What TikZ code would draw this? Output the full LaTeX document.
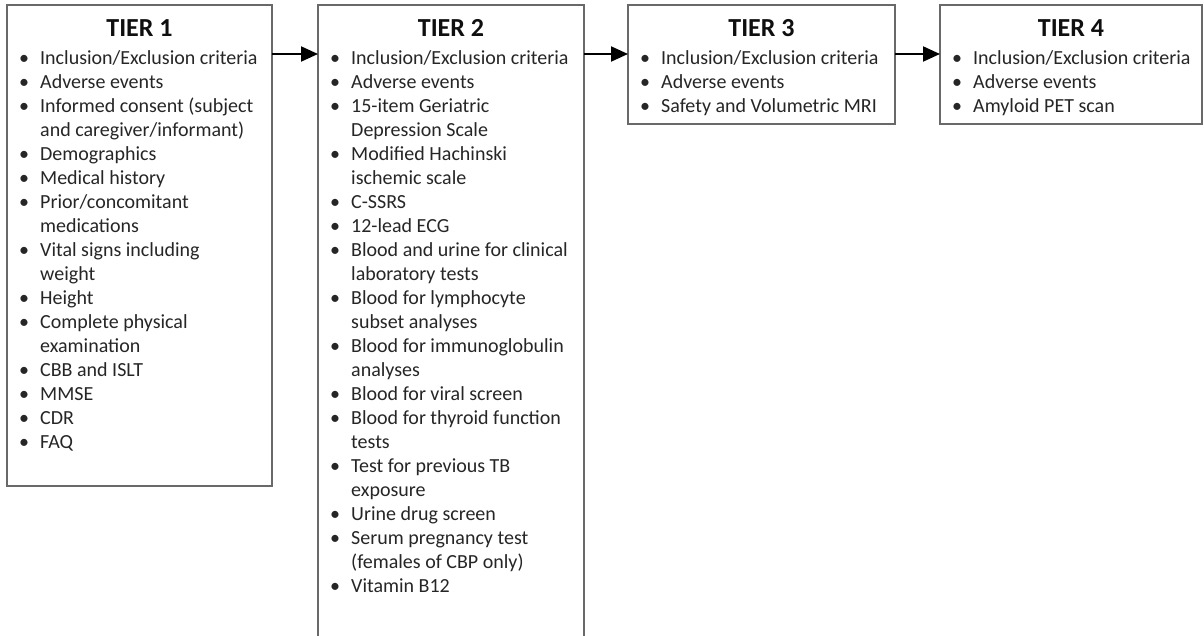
\documentclass[tikz,border=0pt]{standalone}
\usepackage{fontspec}
\setmainfont{Carlito}
\usetikzlibrary{arrows.meta}
\definecolor{boxgray}{RGB}{105,105,105}
\definecolor{txtgray}{RGB}{38,38,38}
\definecolor{ttlgray}{RGB}{15,15,15}
\newcommand\bl{\makebox[21pt][l]{•}}
\newcommand\ind{\hspace*{21pt}}
\newcommand\lst[1]{\parbox[t]{262pt}{\fontsize{20}{24}\selectfont\raggedright #1}}
\tikzset{
  tierbox/.style={draw=boxgray, line width=2.2pt, fill=white, inner sep=0pt, outer sep=0pt, anchor=north west},
  tiertitle/.style={anchor=base, inner sep=0pt, text=ttlgray, font=\fontsize{26}{30}\selectfont\bfseries},
  tierlist/.style={anchor=base west, inner sep=0pt, text=txtgray},
  arr/.style={draw=black, line width=2pt, -{Triangle[length=17pt,width=15pt]}}
}
\begin{document}
\begin{tikzpicture}[x=1pt,y=-1pt]
\useasboundingbox (0,0) rectangle (1204,636);
\clip (0,0) rectangle (1204,636);
\fill[white] (0,0) rectangle (1204,636);
% boxes
\node[tierbox, minimum width=265pt, minimum height=481pt] (t1) at (7,5) {};
\node[tierbox, minimum width=266pt, minimum height=660pt] (t2) at (318,5) {};
\node[tierbox, minimum width=267pt, minimum height=119pt] (t3) at (628,5) {};
\node[tierbox, minimum width=262pt, minimum height=119pt] (t4) at (940,5) {};
% titles
\node[tiertitle] (t1t) at ([yshift=-32pt]t1.north) {TIER 1};
\node[tiertitle] (t2t) at ([yshift=-32pt]t2.north) {TIER 2};
\node[tiertitle] (t3t) at ([yshift=-32pt]t3.north) {TIER 3};
\node[tiertitle] (t4t) at ([yshift=-32pt]t4.north) {TIER 4};
% lists
\node[tierlist] (t1l) at ([xshift=12pt,yshift=-60pt]t1.north west) {\lst{%
\bl Inclusion/Exclusion criteria\\
\bl Adverse events\\
\bl Informed consent (subject\\
\ind and caregiver/informant)\\
\bl Demographics\\
\bl Medical history\\
\bl Prior/concomitant\\
\ind medications\\
\bl Vital signs including\\
\ind weight\\
\bl Height\\
\bl Complete physical\\
\ind examination\\
\bl CBB and ISLT\\
\bl MMSE\\
\bl CDR\\
\bl FAQ}};
\node[tierlist] (t2l) at ([xshift=12pt,yshift=-60pt]t2.north west) {\lst{%
\bl Inclusion/Exclusion criteria\\
\bl Adverse events\\
\bl 15-item Geriatric\\
\ind Depression Scale\\
\bl Modified Hachinski\\
\ind ischemic scale\\
\bl C-SSRS\\
\bl 12-lead ECG\\
\bl Blood and urine for clinical\\
\ind laboratory tests\\
\bl Blood for lymphocyte\\
\ind subset analyses\\
\bl Blood for immunoglobulin\\
\ind analyses\\
\bl Blood for viral screen\\
\bl Blood for thyroid function\\
\ind tests\\
\bl Test for previous TB\\
\ind exposure\\
\bl Urine drug screen\\
\bl Serum pregnancy test\\
\ind (females of CBP only)\\
\bl Vitamin B12}};
\node[tierlist] (t3l) at ([xshift=12pt,yshift=-60pt]t3.north west) {\lst{%
\bl Inclusion/Exclusion criteria\\
\bl Adverse events\\
\bl Safety and Volumetric MRI}};
\node[tierlist] (t4l) at ([xshift=12pt,yshift=-60pt]t4.north west) {\lst{%
\bl Inclusion/Exclusion criteria\\
\bl Adverse events\\
\bl Amyloid PET scan}};
% arrows
\draw[arr] ([yshift=-49pt]t1.north east) -- ([yshift=-49pt]t2.north west);
\draw[arr] ([yshift=-49pt]t2.north east) -- ([yshift=-49pt]t3.north west);
\draw[arr] ([yshift=-49pt]t3.north east) -- ([yshift=-49pt]t4.north west);
\end{tikzpicture}
\end{document}
